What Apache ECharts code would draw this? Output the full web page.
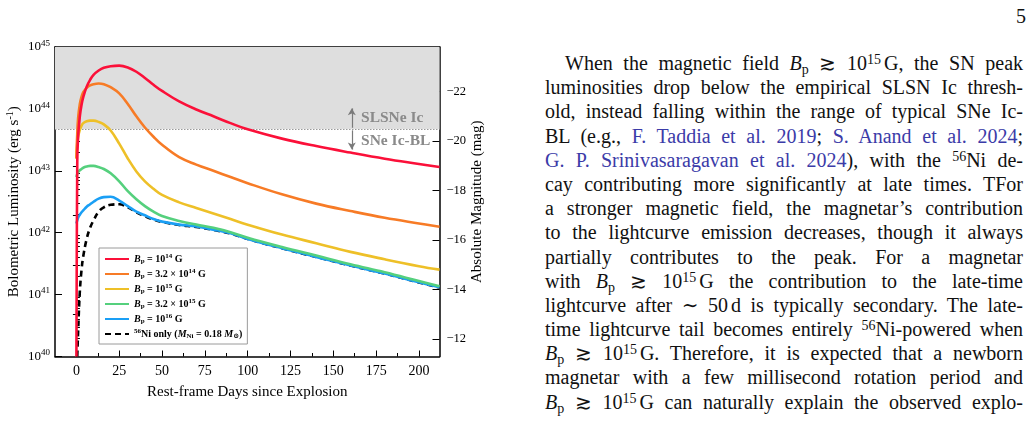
<!DOCTYPE html>
<html>
<head>
<meta charset="utf-8">
<script src="https://cdn.jsdelivr.net/npm/echarts@6.0.0/dist/echarts.min.js"></script>
<style>
  html, body { margin: 0; padding: 0; background: #fff; }
  body { width: 1035px; height: 422px; position: relative; overflow: hidden; font-family: 'Liberation Serif', 'DejaVu Serif', serif; }
  #chart { position: absolute; left: 0; top: 0; width: 500px; height: 422px; }
  #page { position: absolute; left: 1016px; top: 4px; font-size: 20px; line-height: 24px; color: #111; }
  #text { position: absolute; left: 545px; top: 51px; width: 478px; font-size: 20px; color: #111; }
  .ln { height: 24.2px; line-height: 24.2px; text-align: justify; text-align-last: justify; white-space: nowrap; }
  .ln sup, .ln sub { font-size: 0.7em; line-height: 0; }
  .ln sup { vertical-align: 0.45em; }
  .ln sub { vertical-align: -0.25em; }
  .ref { color: #3b3ba8; }
  .g { margin-left: 3px; }
</style>
</head>
<body>
<div id="chart"></div>
<div id="page">5</div>
<div id="text">
  <div class="ln" style="padding-left:20px">When the magnetic field <i>B</i><sub>p</sub> ≳ 10<sup>15</sup><span class="g">G,</span> the SN peak</div>
  <div class="ln">luminosities drop below the empirical SLSN Ic thresh-</div>
  <div class="ln">old, instead falling within the range of typical SNe Ic-</div>
  <div class="ln">BL (e.g., <span class="ref">F. Taddia et al. 2019</span>; <span class="ref">S. Anand et al. 2024</span>;</div>
  <div class="ln"><span class="ref">G. P. Srinivasaragavan et al. 2024</span>), with the <sup>56</sup>Ni de-</div>
  <div class="ln">cay contributing more significantly at late times. TFor</div>
  <div class="ln">a stronger magnetic field, the magnetar’s contribution</div>
  <div class="ln">to the lightcurve emission decreases, though it always</div>
  <div class="ln">partially contributes to the peak. For a magnetar</div>
  <div class="ln">with <i>B</i><sub>p</sub> ≳ 10<sup>15</sup><span class="g">G</span> the contribution to the late-time</div>
  <div class="ln">lightcurve after ∼ 50<span class="g">d</span> is typically secondary. The late-</div>
  <div class="ln">time lightcurve tail becomes entirely <sup>56</sup>Ni-powered when</div>
  <div class="ln"><i>B</i><sub>p</sub> ≳ 10<sup>15</sup><span class="g">G.</span> Therefore, it is expected that a newborn</div>
  <div class="ln">magnetar with a few millisecond rotation period and</div>
  <div class="ln"><i>B</i><sub>p</sub> ≳ 10<sup>15</sup><span class="g">G</span> can naturally explain the observed explo-</div>
</div>
<script>
// rest-frame days (shared grid for every curve)
const days = [0, 0.5, 1, 2, 3, 4, 6, 8, 10, 13, 16, 20, 25, 30, 35, 40, 45, 50, 60, 70, 80, 90, 100, 120, 140, 160, 180, 200, 212]

// bolometric luminosity, erg/s
const lumB14 = [1.0e40, 1.41e43, 3.55e43, 7.59e43, 1.17e44, 1.55e44, 2.29e44, 2.95e44, 3.55e44, 4.17e44, 4.62e44, 4.90e44, 5.01e44, 4.68e44, 3.98e44, 3.16e44, 2.45e44, 1.95e44, 1.32e44, 9.77e43, 7.59e43, 5.89e43, 4.68e43, 3.31e43, 2.51e43, 1.97e43, 1.57e43, 1.29e43, 1.15e43]
const lumB32e14 = [1.58e43, 3.98e43, 7.08e43, 1.20e44, 1.58e44, 1.86e44, 2.19e44, 2.40e44, 2.51e44, 2.57e44, 2.51e44, 2.24e44, 1.78e44, 1.20e44, 7.59e43, 5.01e43, 3.55e43, 2.63e43, 1.66e43, 1.26e43, 1.00e43, 7.94e42, 6.31e42, 4.17e42, 2.95e42, 2.24e42, 1.74e42, 1.41e42, 1.25e42]
const lumB15 = [1.58e43, 2.82e43, 3.55e43, 4.57e43, 5.37e43, 5.89e43, 6.31e43, 6.46e43, 6.46e43, 6.17e43, 5.62e43, 4.47e43, 2.75e43, 1.58e43, 9.77e42, 6.76e42, 5.13e42, 4.07e42, 3.09e42, 2.51e42, 2.04e42, 1.66e42, 1.35e42, 9.33e41, 6.76e41, 4.90e41, 3.72e41, 2.88e41, 2.53e41]
const lumB32e15 = [7.94e42, 8.91e42, 9.55e42, 1.02e43, 1.07e43, 1.12e43, 1.17e43, 1.20e43, 1.20e43, 1.15e43, 1.07e43, 9.12e42, 6.76e42, 4.68e42, 3.47e42, 2.69e42, 2.19e42, 1.86e42, 1.55e42, 1.35e42, 1.20e42, 1.02e42, 8.32e41, 5.89e41, 4.27e41, 3.09e41, 2.29e41, 1.66e41, 1.37e41]
const lumB16 = [1.41e42, 1.58e42, 1.74e42, 1.95e42, 2.14e42, 2.29e42, 2.63e42, 2.88e42, 3.16e42, 3.55e42, 3.76e42, 3.80e42, 3.31e42, 2.69e42, 2.19e42, 1.91e42, 1.66e42, 1.51e42, 1.35e42, 1.26e42, 1.12e42, 9.77e41, 7.94e41, 5.62e41, 4.07e41, 2.95e41, 2.19e41, 1.58e41, 1.31e41]
const lumNi = [null, 1.0e40, 2.51e40, 1.12e41, 2.51e41, 4.17e41, 7.94e41, 1.20e42, 1.58e42, 2.19e42, 2.57e42, 2.82e42, 2.88e42, 2.57e42, 2.14e42, 1.84e42, 1.63e42, 1.49e42, 1.33e42, 1.24e42, 1.11e42, 9.7e41, 7.9e41, 5.6e41, 4.05e41, 2.94e41, 2.18e41, 1.57e41, 1.30e41]

// SLSN Ic / SNe Ic-BL dividing luminosity
const slsnLimit = 4.75e43

// tick labels
const dayTicks = [0, 25, 50, 75, 100, 125, 150, 175, 200]
const dayMinorTicks = [12.5, 37.5, 62.5, 87.5, 112.5, 137.5, 162.5, 187.5]
const magTicks = [-22, -20, -18, -16, -14, -12]
const magMinorTicks = [-23, -21, -19, -17, -15, -13]

const serif = "'Liberation Serif', 'Times New Roman', 'DejaVu Serif', serif"

const curves = [
  { id: 'b14', values: lumB14, color: '#fb1039', type: 'solid',
    label: '{i|B}{sub|p}{n| = 10}{sup|14}{n| G}' },
  { id: 'b32e14', values: lumB32e14, color: '#f77b26', type: 'solid',
    label: '{i|B}{sub|p}{n| = 3.2 × 10}{sup|14}{n| G}' },
  { id: 'b15', values: lumB15, color: '#eec028', type: 'solid',
    label: '{i|B}{sub|p}{n| = 10}{sup|15}{n| G}' },
  { id: 'b32e15', values: lumB32e15, color: '#55d07d', type: 'solid',
    label: '{i|B}{sub|p}{n| = 3.2 × 10}{sup|15}{n| G}' },
  { id: 'b16', values: lumB16, color: '#1a9ff5', type: 'solid',
    label: '{i|B}{sub|p}{n| = 10}{sup|16}{n| G}' },
  { id: 'ni', values: lumNi, color: '#000000', type: [6, 4],
    label: '{sup|56}{n|Ni only (}{i|M}{sub|Ni}{n| = 0.18 }{i|M}{sub|⊙}{n|)}' }
]
const legendText = {}
curves.forEach(c => { legendText[c.id] = c.label })

// log-decade minor tick positions for the luminosity axis
const logMinor = []
for (let n = 40; n < 45; n++) {
  for (let k = 2; k <= 9; k++) logMinor.push(n + Math.log10(k))
}

const chart = echarts.init(document.getElementById('chart'))

const series = curves.map((c, i) => ({
  name: c.id,
  type: 'line',
  xAxisIndex: 0,
  yAxisIndex: 0,
  data: days.map((d, j) => (c.values[j] == null ? [d, null] : [d, c.values[j]])),
  symbol: 'none',
  smooth: 0.4,
  lineStyle: { color: c.color, width: 2.6, type: c.type, cap: 'butt' },
  itemStyle: { color: c.color },
  z: 10 - i,
  animation: false
}))

// shaded SLSN region, threshold and annotations
series.push({
  name: 'region',
  type: 'line',
  xAxisIndex: 0,
  yAxisIndex: 0,
  data: [],
  z: 1,
  silent: true,
  markArea: {
    silent: true,
    itemStyle: { color: '#dedede' },
    data: [[{ yAxis: slsnLimit }, { yAxis: 1e45 }]]
  },
  markLine: {
    silent: true,
    label: { show: false },
    data: [
      [{ coord: [-12.5, slsnLimit], symbol: 'none', lineStyle: { color: '#999', width: 1, type: [1.5, 1.5] } },
        { coord: [212, slsnLimit], symbol: 'none' }],
      [{ coord: [160.8, 4.95e43], symbol: 'none', lineStyle: { color: '#7a7a7a', width: 1.2, type: 'solid' } },
        { coord: [160.8, 1.02e44], symbol: 'arrow', symbolSize: [6, 7] }],
      [{ coord: [160.8, 4.5e43], symbol: 'none', lineStyle: { color: '#7a7a7a', width: 1.2, type: 'solid' } },
        { coord: [160.8, 2.2e43], symbol: 'arrow', symbolSize: [6, 7] }]
    ]
  },
  markPoint: {
    silent: true,
    symbol: 'circle',
    symbolSize: 1,
    itemStyle: { color: 'rgba(0,0,0,0)' },
    label: {
      show: true, position: 'right', distance: 0,
      color: '#8a8a8a', fontFamily: serif, fontWeight: 'bold', fontSize: 15.5,
      formatter: p => p.name
    },
    data: [
      { name: 'SLSNe Ic', coord: [165.9, 7.1e43] },
      { name: 'SNe Ic-BL', coord: [165.9, 3.0e43] }
    ]
  }
})

const black = { color: '#000' }

chart.setOption({
  animation: false,
  backgroundColor: '#fff',
  grid: { left: 55, top: 47, width: 384.5, height: 309.5, containLabel: false, outerBoundsMode: 'none' },
  legend: {
    data: curves.map(c => c.id),
    orient: 'vertical',
    left: 99,
    top: 248,
    padding: [5, 5, 4, 5],
    itemGap: 3,
    itemWidth: 24,
    itemHeight: 12,
    backgroundColor: '#fff',
    borderColor: '#9a9a9a',
    borderWidth: 1,
    borderRadius: 0,
    selectedMode: false,
    // hide the marker dot that line series put in the middle of the legend line
    itemStyle: { color: 'rgba(0,0,0,0)', borderColor: 'rgba(0,0,0,0)', borderWidth: 0 },
    formatter: name => legendText[name],
    textStyle: {
      color: '#000',
      fontFamily: serif,
      fontSize: 10,
      fontWeight: 'bold',
      lineHeight: 12,
      rich: {
        n: { fontFamily: serif, fontSize: 10, fontWeight: 'bold', color: '#000', lineHeight: 12 },
        i: { fontFamily: serif, fontSize: 10, fontWeight: 'bold', fontStyle: 'italic', color: '#000', lineHeight: 12 },
        sub: { fontFamily: serif, fontSize: 7, fontWeight: 'bold', color: '#000', verticalAlign: 'bottom', lineHeight: 8 },
        sup: { fontFamily: serif, fontSize: 7, fontWeight: 'bold', color: '#000', verticalAlign: 'top', lineHeight: 8 }
      }
    }
  },
  xAxis: [
    {
      type: 'value', position: 'bottom', min: -12.5, max: 212,
      axisLine: { show: true, onZero: false, lineStyle: { color: '#000', width: 1.5 } },
      axisTick: { show: true, inside: true, length: 6, customValues: dayTicks, lineStyle: black },
      axisLabel: { show: true, customValues: dayTicks, margin: 8, color: '#000', fontSize: 14, fontFamily: serif },
      splitLine: { show: false },
      name: 'Rest-frame Days since Explosion',
      nameLocation: 'middle',
      nameGap: 28,
      nameMoveOverlap: false,
      nameTextStyle: { color: '#000', fontSize: 15, fontFamily: serif }
    },
    {
      type: 'value', position: 'bottom', min: -12.5, max: 212,
      axisLine: { show: false },
      axisTick: { show: true, inside: true, length: 3.5, customValues: dayMinorTicks, lineStyle: black },
      axisLabel: { show: false },
      splitLine: { show: false }
    },
    {
      type: 'value', position: 'top', min: -12.5, max: 212,
      axisLine: { show: true, onZero: false, lineStyle: { color: '#000', width: 1.5 } },
      axisTick: { show: true, inside: true, length: 5, customValues: dayTicks, lineStyle: black },
      axisLabel: { show: false },
      splitLine: { show: false }
    },
    {
      type: 'value', position: 'top', min: -12.5, max: 212,
      axisLine: { show: false },
      axisTick: { show: true, inside: true, length: 3.5, customValues: dayMinorTicks, lineStyle: black },
      axisLabel: { show: false },
      splitLine: { show: false }
    }
  ],
  yAxis: [
    {
      type: 'log', logBase: 10, position: 'left', min: 1e40, max: 1e45,
      axisLine: { show: true, onZero: false, lineStyle: { color: '#000', width: 1.5 } },
      axisTick: { show: true, inside: true, length: 7, lineStyle: black },
      axisLabel: {
        show: true, margin: 5,
        formatter: v => '{b|10}{s|' + Math.round(Math.log10(v)) + '}',
        rich: {
          b: { fontSize: 13, fontFamily: serif, color: '#000', lineHeight: 16 },
          s: { fontSize: 9, fontFamily: serif, color: '#000', verticalAlign: 'top', lineHeight: 9 }
        }
      },
      splitLine: { show: false },
      minorTick: { show: false },
      name: 'Bolometric Luminosity (erg s{sup|-1})',
      nameLocation: 'middle',
      nameRotate: 90,
      nameGap: 32,
      nameMoveOverlap: false,
      nameTextStyle: {
        color: '#000', fontSize: 15, fontFamily: serif, lineHeight: 18,
        rich: { sup: { fontSize: 10, fontFamily: serif, color: '#000', verticalAlign: 'top', lineHeight: 10 } }
      }
    },
    {
      type: 'value', position: 'left', min: 40, max: 45,
      axisLine: { show: false },
      axisTick: { show: true, inside: true, length: 3.5, customValues: logMinor, lineStyle: black },
      axisLabel: { show: false },
      splitLine: { show: false }
    },
    {
      type: 'value', position: 'right', min: -23.8, max: -11.3, inverse: true,
      axisLine: { show: true, onZero: false, lineStyle: { color: '#000', width: 1.5 } },
      axisTick: { show: true, inside: true, length: 7, customValues: magTicks, lineStyle: black },
      axisLabel: {
        show: true, customValues: magTicks, margin: 7, color: '#000', fontSize: 12.5, fontFamily: serif,
        formatter: v => '\u2212' + Math.abs(v)
      },
      splitLine: { show: false },
      name: 'Absolute Magnitude (mag)',
      nameLocation: 'middle',
      nameRotate: 90,
      nameGap: 30,
      nameMoveOverlap: false,
      nameTextStyle: { color: '#000', fontSize: 15, fontFamily: serif }
    },
    {
      type: 'value', position: 'right', min: -23.8, max: -11.3, inverse: true,
      axisLine: { show: false },
      axisTick: { show: true, inside: true, length: 3.5, customValues: magMinorTicks, lineStyle: black },
      axisLabel: { show: false },
      splitLine: { show: false }
    }
  ],
  series: series
})
</script>
</body>
</html>
